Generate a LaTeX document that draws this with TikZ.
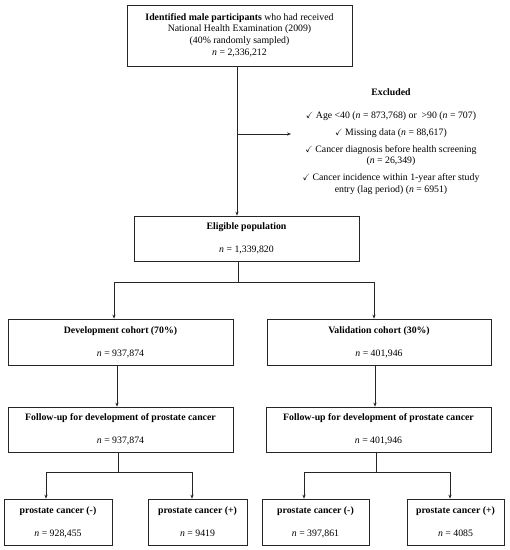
\documentclass[tikz,border=0pt]{standalone}
\usepackage{amssymb}
\usepackage{fontspec}
\setmainfont{Liberation Serif}
\usetikzlibrary{arrows.meta}
\newcommand{\ck}{{\small$\checkmark$}\ }
\newcommand{\nn}{\textit{n}}
\begin{document}
\begin{tikzpicture}[x=1pt,y=-1pt,
  every node/.style={font=\fontsize{9.8}{11.7}\selectfont},
  box/.style={draw=black!85, line width=0.7pt, align=center, inner sep=0pt},
  conn/.style={draw=black!85, line width=0.7pt},
  arr/.style={conn, -{Stealth[length=4pt,width=3.2pt]}}]
\useasboundingbox (0,0) rectangle (510,550);
% boxes
\node[box, minimum width=225pt, minimum height=61pt] (top) at (239.5,35.5)
  {\raisebox{-1.5pt}{\begin{tabular}{@{}c@{}}\textbf{Identified male participants} who had received\\National Health Examination (2009)\\(40\% randomly sampled)\\\nn{} = 2,336,212\end{tabular}}};
\node[box, minimum width=225pt, minimum height=45pt] (elig) at (246.5,238.5)
  {\textbf{Eligible population}\\[11.3pt]\nn{} = 1,339,820};
\node[box, minimum width=225pt, minimum height=46pt] (dev) at (120.5,342)
  {\textbf{Development cohort (70\%)}\\[11.3pt]\nn{} = 937,874};
\node[box, minimum width=224pt, minimum height=46pt] (val) at (379,342)
  {\textbf{Validation cohort (30\%)}\\[11.3pt]\nn{} = 401,946};
\node[box, minimum width=225pt, minimum height=45pt] (fudev) at (120.5,429.5)
  {\textbf{Follow-up for development of prostate cancer}\\[11.3pt]\nn{} = 937,874};
\node[box, minimum width=225pt, minimum height=45pt] (fuval) at (378.5,429.5)
  {\textbf{Follow-up for development of prostate cancer}\\[11.3pt]\nn{} = 401,946};
\node[box, minimum width=108pt, minimum height=46pt] (l1) at (58,522)
  {\textbf{prostate cancer (-)}\\[11.3pt]\nn{} = 928,455};
\node[box, minimum width=99pt, minimum height=46pt] (l2) at (197.5,522)
  {\textbf{prostate cancer (+)}\\[11.3pt]\nn{} = 9419};
\node[box, minimum width=107pt, minimum height=46pt] (l3) at (315.5,522)
  {\textbf{prostate cancer (-)}\\[11.3pt]\nn{} = 397,861};
\node[box, minimum width=97pt, minimum height=46pt] (l4) at (455.5,522)
  {\textbf{prostate cancer (+)}\\[11.3pt]\nn{} = 4085};
% excluded text
\node[align=center, anchor=north, inner sep=0pt] (excl) at (391,88)
  {\textbf{Excluded}\\[11.3pt]
   \ck Age <40 (\nn{} = 873,768) or\ \ >90 (\nn{} = 707)\\[5.3pt]
   \ck Missing data (\nn{} = 88,617)\\[5.3pt]
   \ck Cancer diagnosis before health screening\\(\nn{} = 26,349)\\[5.3pt]
   \ck Cancer incidence within 1-year after study\\entry (lag period) (\nn{} = 6951)};
% coordinates
\coordinate (spine) at (237,0);
\coordinate (exbr) at (237,134);
\coordinate (exend) at (291,134);
\coordinate (xsplit) at (238,0);
\coordinate (split) at (238,282);
\coordinate (xdev) at (114,0);
\coordinate (xval) at (374,0);
\coordinate (xdevb) at (117,0);
\coordinate (xvalb) at (375,0);
\coordinate (xfl) at (118,0);
\coordinate (xfr) at (376,0);
\coordinate (bl) at (118,472);
\coordinate (br) at (376,472);
\coordinate (x1) at (46,0);
\coordinate (x2) at (192,0);
\coordinate (x3) at (304,0);
\coordinate (x4) at (450,0);
% connectors
\draw[arr] (top.south -| spine) -- (elig.north -| spine);
\draw[arr] (exbr) -- (exend);
\draw[conn] (elig.south -| xsplit) -- (split);
\draw[arr] (split) -| (dev.north -| xdev);
\draw[arr] (split) -| (val.north -| xval);
\draw[arr] (dev.south -| xdevb) -- (fudev.north -| xdevb);
\draw[arr] (val.south -| xvalb) -- (fuval.north -| xvalb);
\draw[conn] (fudev.south -| xfl) -- (bl);
\draw[conn] (fuval.south -| xfr) -- (br);
\draw[arr] (bl) -| (l1.north -| x1);
\draw[arr] (bl) -| (l2.north -| x2);
\draw[arr] (br) -| (l3.north -| x3);
\draw[arr] (br) -| (l4.north -| x4);
\end{tikzpicture}
\end{document}
